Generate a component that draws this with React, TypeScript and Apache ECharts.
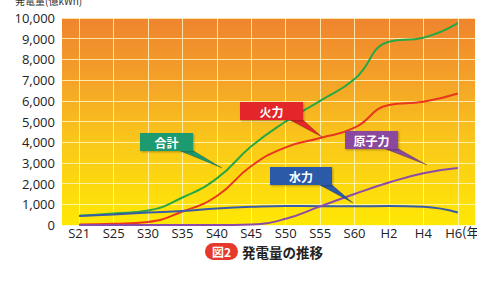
import React, { useEffect, useRef } from "react";
import * as echarts from "echarts";

const categories = ["S21", "S25", "S30", "S35", "S40", "S45", "S50", "S55", "S60", "H2", "H4", "H6"];
const totalValues = [450, 560, 700, 1330, 2250, 3800, 5000, 6000, 7050, 8850, 9050, 9750];
const thermalValues = [30, 60, 150, 650, 1400, 2850, 3750, 4200, 4700, 5800, 5950, 6350];
const hydroValues = [440, 510, 600, 680, 800, 880, 920, 910, 900, 920, 880, 600];
const nuclearValues = [0, 0, 0, 0, 0, 30, 300, 900, 1500, 2050, 2500, 2750];
const yTicks = { min: 0, max: 10000, interval: 1000 };

const FONT = "'Open Sans', 'Noto Sans', sans-serif";
const CJK = "'Noto Sans CJK JP', 'Noto Sans', sans-serif";

function callout(x: number, y: number, w: number, h: number, tail: number[][], color: string, label: string) {
  return [
    { type: "polygon", shape: { points: tail }, style: { fill: color, stroke: "rgba(0,0,0,0.35)", lineWidth: 0.6 }, z: 10 },
    { type: "rect", shape: { x, y, width: w, height: h }, style: { fill: color, shadowBlur: 2, shadowColor: "rgba(0,0,0,0.3)", shadowOffsetX: 1, shadowOffsetY: 1 }, z: 11 },
    {
      type: "text",
      x: x + w / 2,
      y: y + h / 2,
      style: { text: label, fill: "#fff", font: `bold 12px ${CJK}`, align: "center", verticalAlign: "middle" },
      z: 12,
    },
  ];
}

export default function App() {
  const ref = useRef<HTMLDivElement>(null);
  useEffect(() => {
    if (!ref.current) return;
    const chart = echarts.init(ref.current, null, { renderer: "svg" });
    const line = (name: string, data: number[], color: string, z: number) => ({
      name,
      type: "line",
      data,
      smooth: 0.5,
      showSymbol: false,
      lineStyle: { color, width: 2 },
      z,
    });
    chart.setOption({
      animation: false,
      backgroundColor: "#ffffff",
      grid: {
        left: 62,
        right: 2,
        top: 18,
        bottom: 56,
        show: true,
        borderWidth: 0,
        backgroundColor: new echarts.graphic.LinearGradient(0, 0, 0, 1, [
          { offset: 0, color: "#EF842E" },
          { offset: 0.3, color: "#F4A228" },
          { offset: 0.6, color: "#FAC81A" },
          { offset: 1, color: "#FFE804" },
        ]),
      },
      xAxis: {
        type: "category",
        data: categories,
        boundaryGap: true,
        axisLine: { show: false },
        axisTick: { show: false },
        splitLine: { show: true, alignWithLabel: true, lineStyle: { color: "rgba(255,250,200,0.8)", width: 1 } },
        axisLabel: {
          color: "#222",
          fontSize: 13,
          fontFamily: FONT,
          margin: 1,
          interval: 0,
          formatter: (v: string) => (v === "H6" ? "{h|H6}" : v),
          rich: { h: { color: "#222", fontSize: 13, fontFamily: FONT, padding: [0, 8, 0, 0] } },
        },
      },
      yAxis: {
        type: "value",
        min: yTicks.min,
        max: yTicks.max,
        interval: yTicks.interval,
        axisLine: { show: false },
        axisTick: { show: false },
        splitLine: { show: true, lineStyle: { color: "rgba(255,250,200,0.8)", width: 1 } },
        axisLabel: {
          color: "#222",
          fontSize: 13,
          fontFamily: FONT,
          margin: 7,
          formatter: (v: number) => v.toLocaleString("en-US"),
        },
      },
      series: [
        line("合計", totalValues, "#27a845", 3),
        line("火力", thermalValues, "#e8361f", 4),
        line("水力", hydroValues, "#3a5ca8", 5),
        line("原子力", nuclearValues, "#8c4ba8", 6),
      ],
      graphic: [
        {
          type: "text",
          left: 15,
          top: -5,
          style: { text: "発電量(億kWh)", fill: "#333", font: `10px ${CJK}` },
        },
        {
          type: "text",
          left: 462,
          top: 225,
          style: { text: "(年)", fill: "#222", font: `13px ${CJK}` },
        },
        ...callout(140, 133, 53, 18, [[178, 150], [192, 150], [222, 168]], "#1a9a70", "合計"),
        ...callout(240, 102, 63, 18, [[288, 119], [302, 119], [322, 137]], "#e3262a", "火力"),
        ...callout(345, 131, 53, 18, [[383, 148], [397, 148], [427, 165]], "#8a4a9e", "原子力"),
        ...callout(270, 167, 62, 18, [[318, 184], [331, 184], [353, 203]], "#2c5aa8", "水力"),
        {
          type: "rect",
          shape: { x: 205, y: 243, width: 33, height: 17, r: 8.5 },
          style: { fill: "#e5392c" },
        },
        {
          type: "text",
          x: 221.5,
          y: 251.5,
          style: { text: "図2", fill: "#fff", font: `bold 12px ${CJK}`, align: "center", verticalAlign: "middle" },
        },
        {
          type: "text",
          x: 242,
          y: 251.5,
          style: { text: "発電量の推移", fill: "#222", font: `bold 13.5px ${CJK}`, align: "left", verticalAlign: "middle" },
        },
      ],
    });
    return () => chart.dispose();
  }, []);
  return <div ref={ref} style={{ position: "fixed", left: 0, top: 0, width: 477, height: 281 }} />;
}
